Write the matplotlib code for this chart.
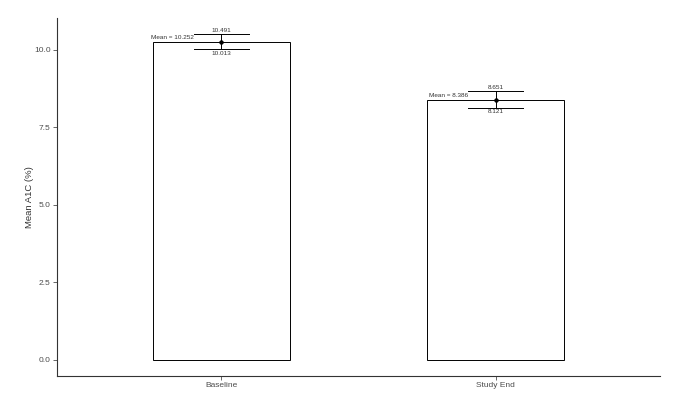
import matplotlib.pyplot as plt
import numpy as np

plt.rcParams['font.family'] = ['Liberation Sans', 'DejaVu Sans']

groups = ["Baseline", "Study End"]
means = [10.252, 8.386]
upper = [10.491, 8.651]
lower = [10.013, 8.121]

fig, ax = plt.subplots(figsize=(6.76, 4.0), dpi=100)
fig.subplots_adjust(left=0.084, right=0.977, top=0.955, bottom=0.06)

x = np.arange(1, len(groups) + 1)
ax.bar(x, means, width=0.5, color="white", edgecolor="black", linewidth=0.7, zorder=1)

for xi, m, hi, lo in zip(x, means, upper, lower):
    ax.plot([xi, xi], [lo, hi], color="black", linewidth=0.7, zorder=2)
    ax.plot([xi - 0.1, xi + 0.1], [hi, hi], color="black", linewidth=0.7, zorder=2)
    ax.plot([xi - 0.1, xi + 0.1], [lo, lo], color="black", linewidth=0.7, zorder=2)
    ax.plot(xi, m, "o", color="black", markersize=2.2, zorder=3)
    ax.text(xi, hi + 0.05, "%.3f" % hi, ha="center", va="bottom", fontsize=4.6, color="#333333")
    ax.text(xi, lo - 0.05, "%.3f" % lo, ha="center", va="top", fontsize=4.6, color="#333333")
    ax.text(xi - 0.1, m + 0.04, "Mean = %.3f" % m, ha="right", va="bottom", fontsize=4.6, color="#333333")

ax.set_xlim(0.4, 2.6)
ax.set_ylim(-0.525, 11.016)
ax.set_xticks(x)
ax.set_xticklabels(groups)
ax.set_yticks([0, 2.5, 5, 7.5, 10])
ax.set_yticklabels(["0.0", "2.5", "5.0", "7.5", "10.0"])
ax.tick_params(labelsize=6, colors="#4d4d4d", length=3, width=0.6, labelcolor="#4d4d4d", pad=1.5)
ax.set_ylabel("Mean A1C (%)", fontsize=6.8, color="#333333", labelpad=0)
ax.set_xlabel("")

for side in ["top", "right"]:
    ax.spines[side].set_visible(False)
for side in ["left", "bottom"]:
    ax.spines[side].set_color("#333333")
    ax.spines[side].set_linewidth(0.8)

fig.savefig("out.png", dpi=100)
